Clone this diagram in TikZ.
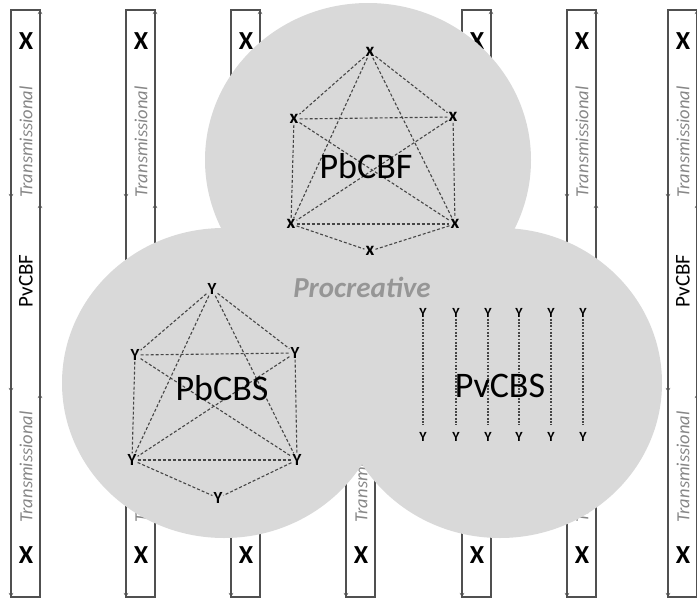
\documentclass[tikz,border=0pt]{standalone}
\usepackage{fontspec}
\setmainfont{Carlito}
\usetikzlibrary{arrows.meta}
\definecolor{bubble}{RGB}{217,217,217}
\definecolor{wirecol}{RGB}{80,80,80}
\definecolor{softgray}{RGB}{135,135,135}
\definecolor{procgray}{RGB}{150,150,150}
\definecolor{edgecol}{RGB}{70,70,70}
\begin{document}
\begin{tikzpicture}[x=1pt,y=-1pt,
  wire/.style={draw=wirecol, line width=1.3pt},
  marker/.style={-{Stealth[length=4pt,width=4.5pt]}, draw=wirecol, line width=1.3pt},
  bigx/.style={inner sep=0pt, font=\fontsize{26}{26}\selectfont\bfseries},
  trans/.style={rotate=90, inner sep=0pt, text=softgray, font=\fontsize{18.5}{18.5}\selectfont\itshape},
  pvlabel/.style={rotate=90, inner sep=0pt, font=\fontsize{21}{21}\selectfont},
  ring/.style={inner sep=0pt, font=\fontsize{36}{36}\selectfont},
  gx/.style={inner sep=1pt, font=\fontsize{19}{19}\selectfont\bfseries},
  gy/.style={inner sep=1pt, font=\fontsize{17}{17}\selectfont\bfseries},
  vy/.style={inner sep=1pt, font=\fontsize{14}{14}\selectfont\bfseries},
  edge/.style={draw=edgecol, line width=1.1pt, dash pattern=on 3pt off 2pt},
  vline/.style={draw=edgecol, line width=1.1pt, dash pattern=on 1.8pt off 1.5pt}
]
\useasboundingbox (0,0) rectangle (697,603);

% transmission channels
\foreach \L/\i in {11/1,126/2,231/3,346/4,462/5,567/6,668/7}{
  \pgfmathsetmacro\R{\L+29}
  \pgfmathsetmacro\C{\L+15}
  \draw[wire] (\L,10) rectangle (\R,597);
  % direction marks
  \draw[marker] (\R,16) -- (\R,10);
  \draw[marker] (\L,192) -- (\L,198);
  \draw[marker] (\R,210) -- (\R,204);
  \draw[marker] (\L,386) -- (\L,392);
  \draw[marker] (\R,400) -- (\R,394);
  \draw[marker] (\L,591) -- (\L,597);
  \node[bigx] (xbot\i) at (\C,555) {X};
  \node[trans] (tbot\i) at (\C,467) {Transmissional};
}
% upper labels of the channels that stay clear of the bubbles
\foreach \C/\i in {26/1,141/2,246/3,477/5,582/6,683/7}
  \node[bigx] (xtop\i) at (\C,41) {X};
\foreach \C/\i in {26/1,141/2,582/6,683/7}
  \node[trans] (ttop\i) at (\C,142) {Transmissional};
\node[pvlabel] (pvl) at (26,281) {PvCBF};
\node[pvlabel] (pvr) at (683,281) {PvCBF};

% procreative bubbles
\fill[bubble] (368,160) ellipse [x radius=163pt, y radius=157pt];
\fill[bubble] (224,383) ellipse [x radius=162pt, y radius=155pt];
\fill[bubble] (500,383) ellipse [x radius=162pt, y radius=155pt];

\node[text=procgray, font=\fontsize{29}{29}\selectfont\itshape\bfseries] (proc) at (362,287) {Procreative};

% PbCBF graph
\node[gx] (ft) at (370,52) {x};
\node[gx] (ful) at (294,119) {x};
\node[gx] (fur) at (453,117) {x};
\node[gx] (fll) at (291,224) {x};
\node[gx] (flr) at (455,224) {x};
\node[gx] (fb) at (370,251) {x};
\foreach \a/\b in {ft/ful,ft/fur,ft/fll,ft/flr,ful/fur,ful/fll,fur/flr,ful/flr,fur/fll,fll/flr,fll/fb,flr/fb}
  \draw[edge] (\a) -- (\b);
\node[ring] (pbcbf) at (366,166) {PbCBF};

% PbCBS graph
\node[gy] (st) at (212,289) {Y};
\node[gy] (sul) at (135,355) {Y};
\node[gy] (sur) at (295,353) {Y};
\node[gy] (sll) at (132,460) {Y};
\node[gy] (slr) at (297,460) {Y};
\node[gy] (sb) at (218,498) {Y};
\foreach \a/\b in {st/sul,st/sur,st/sll,st/slr,sul/sur,sul/sll,sur/slr,sul/slr,sur/sll,sll/slr,sll/sb,slr/sb}
  \draw[edge] (\a) -- (\b);
\node[ring] (pbcbs) at (222,388) {PbCBS};

% PvCBS lines
\foreach \x/\k in {423/1,456/2,488/3,519/4,551/5,583/6}{
  \node[vy] (vt\k) at (\x,313) {Y};
  \node[vy] (vb\k) at (\x,437) {Y};
  \coordinate (ve\k) at (\x,425);
  \draw[vline] (vt\k) -- (ve\k);
}
\node[ring] (pvcbs) at (500,386) {PvCBS};
\end{tikzpicture}
\end{document}
